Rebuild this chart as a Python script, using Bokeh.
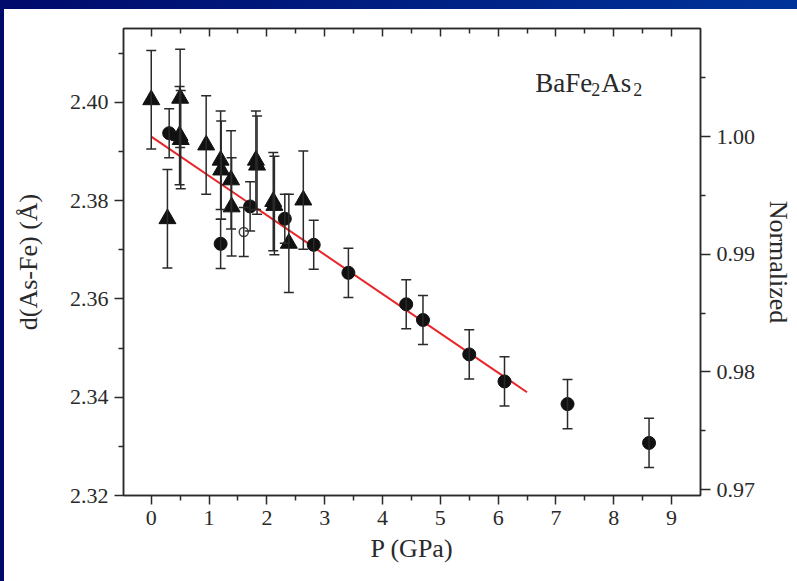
from bokeh.plotting import figure
from bokeh.models import (Range1d, LinearAxis, FixedTicker, NumeralTickFormatter,
                          ColumnDataSource, Whisker, TeeHead, Label, Div, Row, Column)
from bokeh.embed import file_html
from bokeh.resources import INLINE

# ---- data ----
tri_p = [0.00, 0.28, 0.50, 0.49, 0.51, 0.95, 1.20, 1.21, 1.38, 1.39, 1.81, 1.83, 2.11, 2.13, 2.38, 2.63]
tri_d = [2.4005, 2.3763, 2.4008, 2.3932, 2.3924, 2.3913, 2.3882, 2.3862, 2.3842, 2.3787,
         2.3882, 2.3872, 2.3798, 2.3790, 2.3713, 2.3801]
tri_err = [0.01] * len(tri_p)

circ_p = [0.31, 1.20, 1.71, 2.31, 2.81, 3.41, 4.41, 4.70, 5.50, 6.11, 7.20, 8.61]
circ_d = [2.3937, 2.3712, 2.3788, 2.3763, 2.3710, 2.3653, 2.3589, 2.3557, 2.3487, 2.3432, 2.3386, 2.3307]
circ_err = [0.005] * len(circ_p)

open_p = [1.60]
open_d = [2.3736]
open_err = [0.005]

fit_p = [0.0, 6.5]
fit_d = [2.393, 2.341]

x_ticks = [0, 1, 2, 3, 4, 5, 6, 7, 8, 9]
x_minor = [0.5, 1.5, 2.5, 3.5, 4.5, 5.5, 6.5, 7.5, 8.5]
y_ticks = [2.32, 2.34, 2.36, 2.38, 2.40]
y_minor = [2.33, 2.35, 2.37, 2.39, 2.41]
n_ticks = [0.97, 0.98, 0.99, 1.00]
n_minor = [0.975, 0.985, 0.995, 1.005]

y_lo, y_hi = 2.32, 2.415
norm_ref = fit_d[0]

FONT = "'Liberation Serif', 'Times New Roman', serif"
INK = "#2a2a2a"

p = figure(width=793, height=572, output_backend="svg", toolbar_location=None,
           x_range=Range1d(-0.48, 9.5), y_range=Range1d(y_lo, y_hi),
           min_border_left=119, min_border_right=97, min_border_top=19, min_border_bottom=86,
           background_fill_color="white", border_fill_color="white", margin=0)
p.grid.visible = False
p.outline_line_color = INK
p.outline_line_width = 1.5

p.extra_y_ranges = {"norm": Range1d(y_lo / norm_ref, y_hi / norm_ref)}
right_ax = LinearAxis(y_range_name="norm", axis_label="Normalized")
p.add_layout(right_ax, "right")
top_ax = LinearAxis()
p.add_layout(top_ax, "above")


def style(ax):
    ax.axis_line_color = INK
    ax.axis_line_width = 1.5
    ax.major_tick_line_color = INK
    ax.major_tick_line_width = 1.5
    ax.minor_tick_line_color = INK
    ax.minor_tick_line_width = 1.5
    ax.major_label_text_font = FONT
    ax.major_label_text_font_size = "22px"
    ax.major_label_text_color = INK
    ax.axis_label_text_font = FONT
    ax.axis_label_text_font_size = "26px"
    ax.axis_label_text_font_style = "normal"
    ax.axis_label_text_color = INK
    ax.major_tick_in = 0
    ax.minor_tick_in = 0
    ax.major_tick_out = 9
    ax.minor_tick_out = 5


xa = p.below[0]
ya = p.left[0]
for ax in (xa, ya, right_ax, top_ax):
    style(ax)

xa.ticker = FixedTicker(ticks=x_ticks, minor_ticks=x_minor)
xa.axis_label = "P (GPa)"
xa.major_label_standoff = 6
xa.axis_label_standoff = 6

top_ax.ticker = FixedTicker(ticks=x_ticks, minor_ticks=x_minor)
top_ax.major_tick_in = 8
top_ax.major_tick_out = 0
top_ax.minor_tick_in = 5
top_ax.minor_tick_out = 0
top_ax.major_label_overrides = {t: "" for t in x_ticks}
top_ax.major_label_text_font_size = "1px"
top_ax.major_label_standoff = 0

ya.ticker = FixedTicker(ticks=y_ticks, minor_ticks=y_minor)
ya.formatter = NumeralTickFormatter(format="0.00")
ya.axis_label = "d(As-Fe) (Å)"
ya.major_label_standoff = 6
ya.axis_label_standoff = 24

right_ax.ticker = FixedTicker(ticks=n_ticks, minor_ticks=n_minor)
right_ax.formatter = NumeralTickFormatter(format="0.00")
right_ax.major_tick_out = 10
right_ax.major_label_standoff = 6
right_ax.axis_label_standoff = 6


def add_err(px, dv, ev):
    src = ColumnDataSource(dict(p=px, lo=[d - e for d, e in zip(dv, ev)],
                                hi=[d + e for d, e in zip(dv, ev)]))
    w = Whisker(source=src, base="p", lower="lo", upper="hi",
                line_color=INK, line_width=1.5,
                lower_head=TeeHead(size=10, line_color=INK, line_width=1.5),
                upper_head=TeeHead(size=10, line_color=INK, line_width=1.5))
    w.level = "glyph"
    p.add_layout(w)


add_err(tri_p, tri_d, tri_err)
add_err(circ_p, circ_d, circ_err)
add_err(open_p, open_d, open_err)

p.line(fit_p, fit_d, line_color="#e8262a", line_width=2)

p.scatter(tri_p, tri_d, marker="triangle", size=17, fill_color="#111111", line_color="#111111")
p.scatter(circ_p, circ_d, marker="circle", size=13, fill_color="#111111", line_color="#111111")
p.scatter(open_p, open_d, marker="circle", size=9, fill_color="white", line_color="#444444",
          line_width=1.5)

# compound label BaFe2As2
lx, ly = 6.641, 2.404
parts = [("BaFe", 0, 0, "27px"), ("2", 56, -7, "18px"), ("As", 66, 0, "27px"), ("2", 98, -7, "18px")]
for txt, dx, dy, fs in parts:
    p.add_layout(Label(x=lx, y=ly, x_offset=dx, y_offset=dy, text=txt,
                       text_font=FONT, text_font_size=fs, text_color=INK,
                       text_baseline="alphabetic", text_align="left"))

top_band = Div(width=797, height=9, margin=0,
               styles={"background": "linear-gradient(to right, #000a6b, #003399)"})
left_band = Div(width=4, height=572, margin=0, styles={"background": "#000a6b"})
layout = Column(top_band, Row(left_band, p, spacing=0, margin=0), spacing=0, margin=0)

html = file_html(layout, INLINE)
html = html.replace("</head>", "<style>html,body{margin:0;padding:0;background:white;}</style></head>", 1)
open("out.html", "w").write(html)
